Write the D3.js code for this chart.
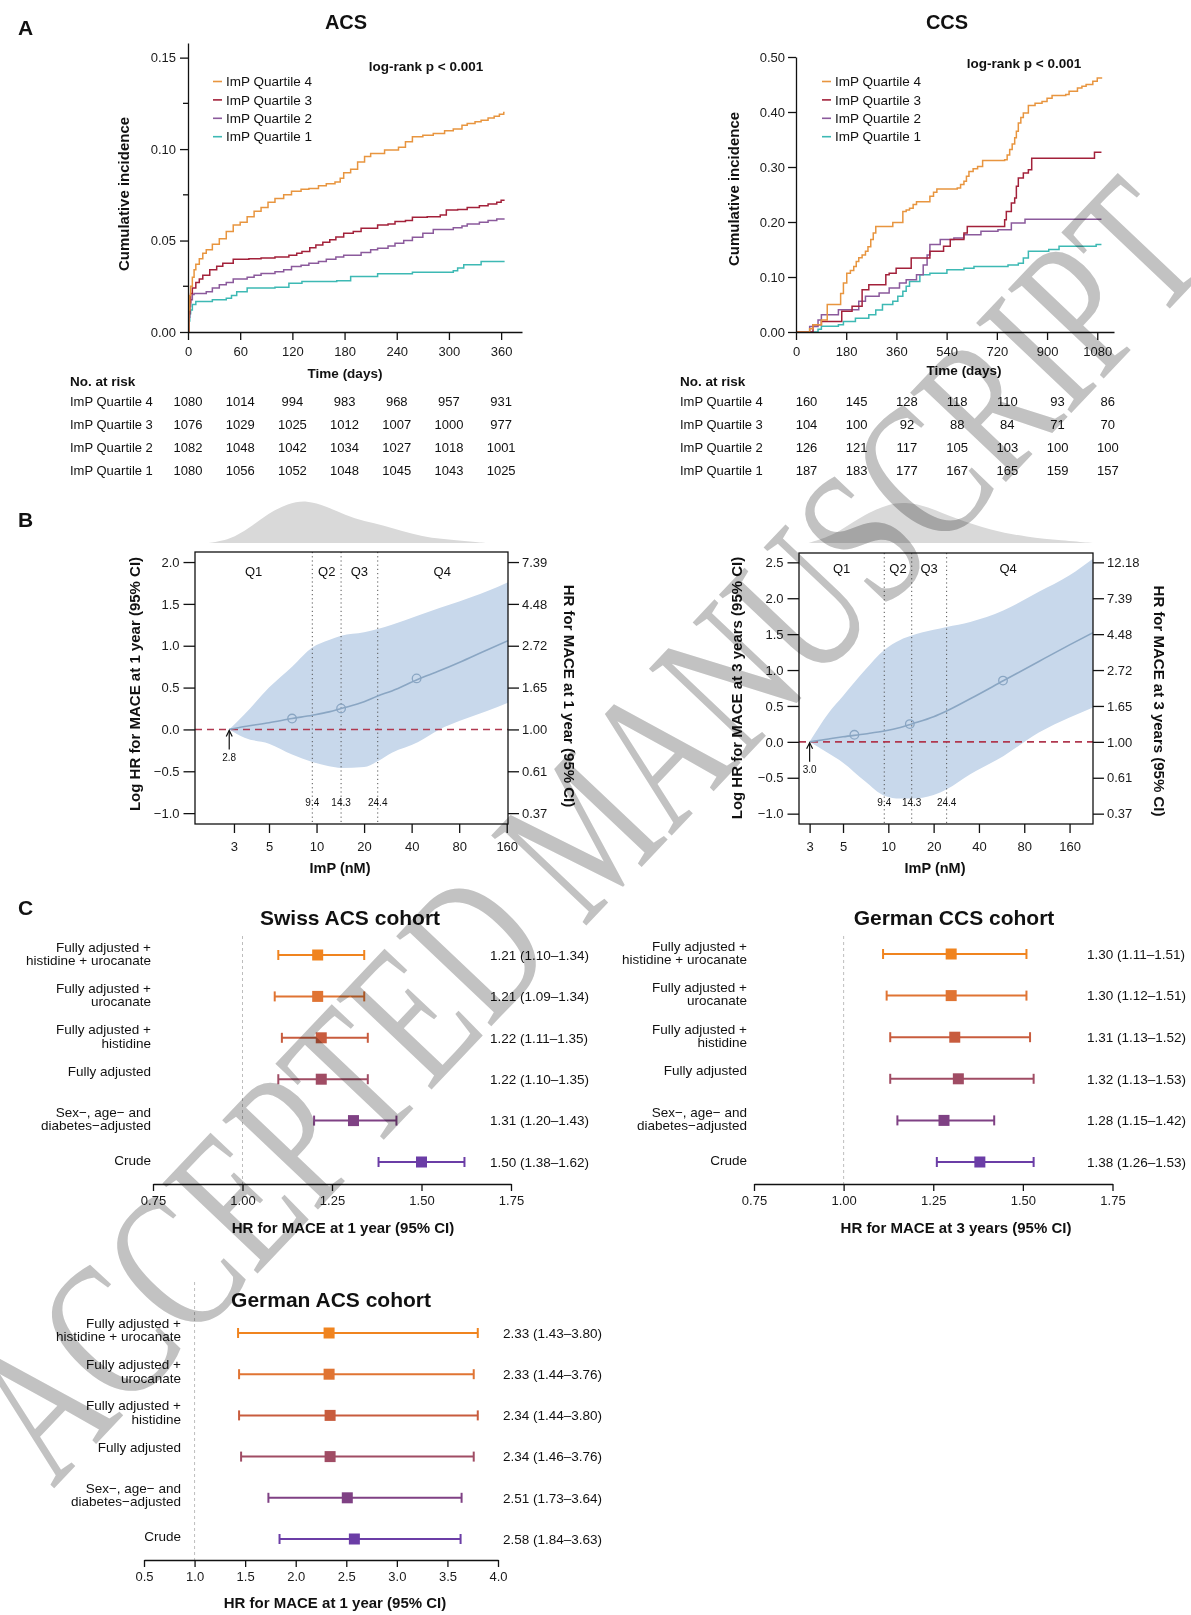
<!DOCTYPE html>
<html><head><meta charset="utf-8">
<script src="https://cdn.jsdelivr.net/npm/d3@7"></script>
<style>body{margin:0;background:#fff} svg{display:block}</style>
</head><body>
<script>
// ================= DATA =================
const quartileNames = ["ImP Quartile 4","ImP Quartile 3","ImP Quartile 2","ImP Quartile 1"];
const quartileColors = ["#E8953F","#A3213A","#8B5A9C","#3DB9B4"];

// Panel A - ACS cumulative incidence [day, incidence]
const acsQ4 = [[0,0],[1,0.012],[2,0.02],[3,0.025],[5,0.03],[7,0.034],[9,0.037],[13,0.04],[17,0.043],[21,0.045],[28,0.048],[36,0.051],[44,0.055],[52,0.0585],[60,0.06],[68,0.063],[76,0.066],[84,0.068],[92,0.071],[100,0.073],[110,0.075],[119,0.077],[130,0.078],[139,0.0785],[150,0.08],[159,0.081],[169,0.082],[175,0.084],[179,0.087],[187,0.089],[195,0.093],[203,0.096],[210,0.0976],[226,0.0995],[242,0.101],[250,0.104],[258,0.1067],[270,0.1075],[282,0.1085],[295,0.11],[305,0.111],[315,0.113],[321,0.114],[330,0.115],[337,0.1158],[345,0.117],[352,0.118],[358,0.119],[363,0.12],[364,0.12]];
const acsQ3 = [[0,0],[1,0.01],[2,0.016],[3,0.021],[5,0.024],[9,0.027],[13,0.029],[17,0.031],[25,0.034],[33,0.036],[40,0.0376],[52,0.0398],[70,0.04],[84,0.0404],[100,0.041],[116,0.042],[125,0.043],[131,0.044],[140,0.046],[147,0.0476],[155,0.049],[163,0.0504],[170,0.052],[179,0.054],[190,0.055],[199,0.0567],[218,0.0585],[230,0.059],[238,0.0604],[250,0.061],[258,0.0627],[275,0.063],[290,0.064],[297,0.0667],[310,0.067],[321,0.068],[335,0.069],[345,0.07],[355,0.071],[360,0.072],[364,0.072]];
const acsQ2 = [[0,0],[1,0.008],[2,0.014],[3,0.0176],[5,0.0205],[7,0.021],[21,0.022],[28,0.024],[36,0.0258],[44,0.027],[52,0.029],[68,0.03],[76,0.031],[84,0.032],[100,0.033],[110,0.034],[119,0.0358],[130,0.0365],[139,0.0376],[150,0.0385],[159,0.0398],[170,0.041],[179,0.042],[199,0.0435],[210,0.045],[218,0.0458],[230,0.047],[238,0.0485],[248,0.05],[258,0.0518],[270,0.054],[282,0.056],[305,0.057],[315,0.058],[321,0.059],[335,0.06],[345,0.061],[355,0.0618],[364,0.0618]];
const acsQ1 = [[0,0],[1,0.006],[2,0.01],[3,0.012],[5,0.015],[9,0.0167],[28,0.0176],[44,0.0185],[50,0.02],[56,0.022],[68,0.024],[100,0.0245],[116,0.0267],[131,0.0276],[171,0.028],[187,0.0304],[218,0.0318],[258,0.0327],[305,0.0335],[310,0.035],[317,0.0367],[337,0.0385],[364,0.0385]];

// Panel A - CCS cumulative incidence [day, incidence]
const ccsQ4 = [[0,0],[45,0],[49,0.006],[61,0.013],[91,0.022],[112,0.05],[152,0.05],[160,0.07],[170,0.089],[182,0.107],[195,0.112],[207,0.119],[216,0.128],[225,0.135],[237,0.14],[249,0.147],[258,0.155],[268,0.168],[277,0.18],[286,0.192],[334,0.192],[347,0.199],[371,0.199],[383,0.219],[395,0.222],[407,0.225],[420,0.232],[432,0.237],[468,0.237],[480,0.247],[493,0.254],[505,0.26],[578,0.262],[590,0.268],[602,0.274],[611,0.283],[620,0.292],[635,0.297],[651,0.301],[669,0.312],[748,0.313],[757,0.322],[766,0.332],[775,0.342],[784,0.353],[790,0.365],[797,0.38],[806,0.39],[815,0.398],[833,0.412],[857,0.416],[882,0.419],[900,0.425],[918,0.43],[967,0.432],[979,0.4376],[1009,0.4436],[1025,0.447],[1040,0.45],[1064,0.456],[1080,0.462],[1095,0.463]];
const ccsQ3 = [[0,0],[50,0],[61,0.013],[91,0.019],[152,0.019],[164,0.0376],[201,0.0467],[225,0.0467],[237,0.077],[261,0.086],[310,0.086],[322,0.104],[334,0.107],[359,0.116],[407,0.116],[413,0.1345],[468,0.1345],[480,0.147],[529,0.156],[553,0.168],[602,0.18],[614,0.192],[724,0.192],[748,0.204],[754,0.219],[772,0.2345],[784,0.2436],[790,0.265],[797,0.28],[815,0.289],[833,0.295],[845,0.316],[1064,0.316],[1070,0.327],[1095,0.327]];
const ccsQ2 = [[0,0],[40,0],[49,0.01],[79,0.022],[91,0.0315],[152,0.0406],[225,0.0558],[249,0.065],[298,0.071],[334,0.08],[371,0.089],[395,0.095],[432,0.104],[456,0.122],[470,0.14],[480,0.159],[517,0.168],[566,0.171],[602,0.177],[663,0.183],[724,0.186],[772,0.198],[821,0.205],[1095,0.205]];
const ccsQ1 = [[0,0],[65,0],[79,0.005],[91,0.0103],[152,0.013],[170,0.019],[213,0.025],[261,0.0315],[286,0.04],[310,0.05],[347,0.056],[365,0.065],[383,0.074],[395,0.083],[407,0.092],[444,0.104],[480,0.107],[541,0.113],[602,0.116],[638,0.119],[760,0.122],[797,0.125],[815,0.1345],[833,0.147],[906,0.15],[943,0.156],[1076,0.159],[1095,0.159]];

// Numbers at risk
const acsRiskTimes = [0,60,120,180,240,300,360];
const acsRiskQ4 = [1080,1014,994,983,968,957,931];
const acsRiskQ3 = [1076,1029,1025,1012,1007,1000,977];
const acsRiskQ2 = [1082,1048,1042,1034,1027,1018,1001];
const acsRiskQ1 = [1080,1056,1052,1048,1045,1043,1025];
const ccsRiskTimes = [0,180,360,540,720,900,1080];
const ccsRiskQ4 = [160,145,128,118,110,93,86];
const ccsRiskQ3 = [104,100,92,88,84,71,70];
const ccsRiskQ2 = [126,121,117,105,103,100,100];
const ccsRiskQ1 = [187,183,177,167,165,159,157];

const acsTimeTicks = [0,60,120,180,240,300,360];
const ccsTimeTicks = [0,180,360,540,720,900,1080];
const acsIncTicks = [0,0.05,0.10,0.15];
const acsIncMinor = [0.025,0.075,0.125];
const ccsIncTicks = [0,0.1,0.2,0.3,0.4,0.5];

// Panel B - spline (ImP nM, log HR)
const acsGridX = [2.8,3.5,5,7,9.4,12,14.3,20,24.4,30,44,60,80,120,163];
const acsFit   = [0,0.035,0.08,0.13,0.17,0.21,0.25,0.33,0.40,0.46,0.60,0.70,0.80,0.95,1.06];
const acsUpper = [0,0.18,0.5,0.75,0.98,1.07,1.12,1.16,1.2,1.25,1.36,1.45,1.53,1.65,1.76];
const acsLower = [0,-0.1,-0.17,-0.3,-0.39,-0.44,-0.46,-0.45,-0.38,-0.28,-0.15,0.0,0.1,0.22,0.32];
const acsKnotX = [7.0,14.3,43];
const acsKnotY = [0.13,0.25,0.61];
const acsDensX = [2.07,2.84,3.75,4.97,6.57,8.69,11.5,15.2,20.1,26.7,35.3,46.7,61.8,81.8,118];
const acsDensY = [0,0.077,0.35,0.69,0.92,1.0,0.85,0.65,0.5,0.41,0.27,0.154,0.092,0.054,0];
const acsRef = 2.8;

const ccsGridX = [3.0,4,5,7,9.4,12,14.3,20,24.4,35,58,100,160,229];
const ccsFit   = [0,0.04,0.07,0.11,0.15,0.2,0.25,0.35,0.43,0.6,0.85,1.12,1.35,1.52];
const ccsUpper = [0,0.4,0.64,1.0,1.28,1.42,1.48,1.56,1.6,1.67,1.83,2.09,2.32,2.55];
const ccsLower = [0,-0.16,-0.29,-0.55,-0.75,-0.79,-0.79,-0.74,-0.66,-0.45,-0.2,0.13,0.34,0.48];
const ccsKnotX = [5.95,13.9,57.8];
const ccsKnotY = [0.098,0.247,0.853];
const ccsDensX = [2.95,4,5,7,10,13,18,28,48,83,142,229];
const ccsDensY = [0,0.15,0.35,0.7,0.95,1.0,0.9,0.59,0.31,0.146,0.065,0];
const ccsRef = 3.0;

const impCuts = [9.4,14.3,24.4];
const impTicks = [3,5,10,20,40,80,160];
const acsLogHRTicks = [-1,-0.5,0,0.5,1,1.5,2];
const ccsLogHRTicks = [-1,-0.5,0,0.5,1,1.5,2,2.5];
const qNames = ["Q1","Q2","Q3","Q4"];

// Panel C - forest plots
const forestLabels = [["Fully adjusted +","histidine + urocanate"],["Fully adjusted +","urocanate"],["Fully adjusted +","histidine"],["Fully adjusted",""],["Sex\u2212, age\u2212 and","diabetes\u2212adjusted"],["Crude"]];
const forestColors = ["#F0841F","#E07433","#C85C3E","#A04C64","#7F4184","#6B3DA6"];
const swissHR = [1.21,1.21,1.22,1.22,1.31,1.50];
const swissLo = [1.10,1.09,1.11,1.10,1.20,1.38];
const swissHi = [1.34,1.34,1.35,1.35,1.43,1.62];
const gccsHR = [1.30,1.30,1.31,1.32,1.28,1.38];
const gccsLo = [1.11,1.12,1.13,1.13,1.15,1.26];
const gccsHi = [1.51,1.51,1.52,1.53,1.42,1.53];
const gacsHR = [2.33,2.33,2.34,2.34,2.51,2.58];
const gacsLo = [1.43,1.44,1.44,1.46,1.73,1.84];
const gacsHi = [3.80,3.76,3.80,3.76,3.64,3.63];
const forestTicks1 = [0.75,1.00,1.25,1.50,1.75];
const forestTicks2 = [0.5,1.0,1.5,2.0,2.5,3.0,3.5,4.0];

const watermarkText = "ACCEPTED MANUSCRIPT";

// ================= DRAWING =================
const FONT = "'Liberation Sans', Arial, Helvetica, sans-serif";
const svg = d3.select("body").append("svg").attr("width",1191).attr("height",1615).attr("font-family",FONT);
svg.append("rect").attr("width",1191).attr("height",1615).attr("fill","#fff");

function label(g, x, y, s, o={}) {
  const {size=13, weight="normal", anchor="middle", rotate=0, fill="#111"} = o;
  return g.append("text").attr("transform",`translate(${x},${y}) rotate(${rotate})`)
    .attr("text-anchor",anchor).attr("dy","0.35em").attr("font-size",size)
    .attr("font-weight",weight).attr("fill",fill).text(s);
}
function styleAxis(sel, size=13) {
  sel.attr("font-family",FONT).attr("font-size",size);
  sel.selectAll("path.domain").attr("stroke","#111").attr("stroke-width",1.3);
  sel.selectAll(".tick line").attr("stroke","#111").attr("stroke-width",1.3);
  sel.selectAll(".tick text").attr("fill","#1a1a1a");
}

// ---------- Panel A ----------
function drawKM(o) {
  const g = svg.append("g");
  const x = d3.scaleLinear().domain(o.xDomain).range(o.xRange);
  const y = d3.scaleLinear().domain(o.yDomain).range(o.yRange);
  const line = d3.line().x(d=>x(d[0])).y(d=>y(d[1])).curve(d3.curveStepAfter);
  o.series.slice().reverse().forEach((s,k)=>{
    const i = o.series.length-1-k;
    g.append("path").attr("d",line(s)).attr("fill","none")
      .attr("stroke",quartileColors[i]).attr("stroke-width",1.5);
  });
  const xa = d3.axisBottom(x).tickValues(o.xTicks).tickFormat(d3.format("d"))
    .tickSize(8).tickPadding(7).tickSizeOuter(0);
  g.append("g").attr("transform",`translate(0,${y(0)})`).call(xa).call(styleAxis);
  const ya = d3.axisLeft(y).tickValues(o.yTicks).tickFormat(d3.format(".2f"))
    .tickSize(8).tickPadding(o.yPad).tickSizeOuter(0);
  g.append("g").attr("transform",`translate(${x(0)},0)`).call(ya).call(styleAxis);
  (o.yMinor||[]).forEach(v=>{
    g.append("line").attr("x1",x(0)-5).attr("x2",x(0)).attr("y1",y(v)).attr("y2",y(v))
      .attr("stroke","#111").attr("stroke-width",1.3);
  });
  quartileNames.forEach((n,i)=>{
    const ly = o.legY + i*18.4;
    g.append("line").attr("x1",o.legX).attr("x2",o.legX+9).attr("y1",ly).attr("y2",ly)
      .attr("stroke",quartileColors[i]).attr("stroke-width",1.6);
    label(g, o.legX+13, ly, n, {size:13.5, anchor:"start"});
  });
  label(g, o.lrX, o.lrY, "log-rank p < 0.001", {size:13.5, weight:"bold"});
  label(g, o.titleX, 21.5, o.title, {size:20, weight:"bold"});
  label(g, o.ylabX, o.ylabY, "Cumulative incidence", {size:15, weight:"bold", rotate:-90});
  label(g, o.xlabX, o.xlabY, "Time (days)", {size:13.5, weight:"bold"});
  label(g, o.tabX, 381, "No. at risk", {size:13.5, weight:"bold", anchor:"start"});
  const rowsY = [401.5, 424.5, 447, 470];
  o.risk.forEach((vals,i)=>{
    label(g, o.tabX, rowsY[i], quartileNames[i], {size:13, anchor:"start"});
    vals.forEach((v,j)=> label(g, x(o.riskTimes[j]) + o.tabShift, rowsY[i], String(v), {size:13}));
  });
}

drawKM({
  title:"ACS", titleX:346,
  xDomain:[0,384], xRange:[188,522], yDomain:[0,0.158], yRange:[332,43],
  xTicks:acsTimeTicks, yTicks:acsIncTicks, yMinor:acsIncMinor, yPad:4,
  series:[acsQ4,acsQ3,acsQ2,acsQ1],
  legX:213, legY:81.5, lrX:426, lrY:66.5,
  ylabX:124, ylabY:194, xlabX:345, xlabY:373,
  tabX:70, risk:[acsRiskQ4,acsRiskQ3,acsRiskQ2,acsRiskQ1], riskTimes:acsRiskTimes, tabShift:0
});
drawKM({
  title:"CCS", titleX:947,
  xDomain:[0,1140], xRange:[796,1114], yDomain:[0,0.5], yRange:[332,57],
  xTicks:ccsTimeTicks, yTicks:ccsIncTicks, yPad:3,
  series:[ccsQ4,ccsQ3,ccsQ2,ccsQ1],
  legX:822, legY:81.5, lrX:1024, lrY:63,
  ylabX:734, ylabY:189, xlabX:964, xlabY:370,
  tabX:680, risk:[ccsRiskQ4,ccsRiskQ3,ccsRiskQ2,ccsRiskQ1], riskTimes:ccsRiskTimes, tabShift:10.5
});

// ---------- Panel B ----------
function drawSpline(o) {
  const g = svg.append("g");
  const x = d3.scaleLog().domain(o.xDomain).range(o.xRange);
  const y = d3.scaleLinear().domain(o.yDomain).range(o.yRange);
  const [L,R] = o.xRange, [B,T] = o.yRange;
  const dens = o.densX.map((v,i)=>[v,o.densY[i]]);
  g.append("path").attr("d", d3.area().x(d=>x(d[0])).y0(o.densBase).y1(d=>o.densBase-d[1]*o.densH)
      .curve(d3.curveBasis)(dens)).attr("fill","#D9D9D9");
  const clipId = "clip"+o.id;
  g.append("clipPath").attr("id",clipId).append("rect").attr("x",L).attr("y",T).attr("width",R-L).attr("height",B-T);
  const pg = g.append("g").attr("clip-path",`url(#${clipId})`);
  const pts = o.gridX.map((v,i)=>({x:v, f:o.fit[i], lo:o.lower[i], hi:o.upper[i]}));
  pg.append("path").attr("d", d3.area().x(d=>x(d.x)).y0(d=>y(d.lo)).y1(d=>y(d.hi)).curve(d3.curveMonotoneX)(pts))
    .attr("fill","#C8D8EB");
  impCuts.forEach(c=>{
    pg.append("line").attr("x1",x(c)).attr("x2",x(c)).attr("y1",T).attr("y2",B)
      .attr("stroke","#555").attr("stroke-width",1).attr("stroke-dasharray","1.2,3");
    label(g, x(c), 802, String(c), {size:10});
  });
  pg.append("line").attr("x1",L).attr("x2",R).attr("y1",y(0)).attr("y2",y(0))
    .attr("stroke","#B0384F").attr("stroke-width",1.6).attr("stroke-dasharray","7,5");
  pg.append("path").attr("d", d3.line().x(d=>x(d.x)).y(d=>y(d.f)).curve(d3.curveMonotoneX)(pts))
    .attr("fill","none").attr("stroke","#8AA6C3").attr("stroke-width",1.6);
  o.knotX.forEach((k,i)=> pg.append("circle").attr("cx",x(k)).attr("cy",y(o.knotY[i])).attr("r",4.3)
    .attr("fill","none").attr("stroke","#8AA6C3").attr("stroke-width",1.3));
  const ax0 = x(o.ref), ay = y(0);
  g.append("line").attr("x1",ax0).attr("x2",ax0).attr("y1",ay+1).attr("y2",ay+20).attr("stroke","#111").attr("stroke-width",1.2);
  g.append("path").attr("d",`M${ax0-3},${ay+7}L${ax0},${ay+1}L${ax0+3},${ay+7}`).attr("fill","none").attr("stroke","#111").attr("stroke-width",1.2);
  label(g, ax0, ay+28, o.ref.toFixed(1), {size:10});
  const bounds = [o.qMin, ...impCuts, 160];
  qNames.forEach((q,i)=> label(g, x(Math.sqrt(bounds[i]*bounds[i+1])), o.qY, q, {size:13}));
  g.append("rect").attr("x",L).attr("y",T).attr("width",R-L).attr("height",B-T)
    .attr("fill","none").attr("stroke","#111").attr("stroke-width",1.3);
  const bx = d3.axisBottom(x).tickValues(impTicks).tickFormat(d3.format("d")).tickSize(9).tickPadding(9).tickSizeOuter(0);
  const bxg = g.append("g").attr("transform",`translate(0,${B})`).call(bx).call(styleAxis);
  bxg.select("path.domain").remove();
  const ly = d3.axisLeft(y).tickValues(o.yTicks).tickFormat(d3.format(".1f")).tickSize(11.5).tickPadding(4).tickSizeOuter(0);
  const lyg = g.append("g").attr("transform",`translate(${L},0)`).call(ly).call(styleAxis);
  lyg.select("path.domain").remove();
  const ry = d3.axisRight(y).tickValues(o.yTicks).tickFormat(d=>Math.exp(d).toFixed(2)).tickSize(11).tickPadding(3).tickSizeOuter(0);
  const ryg = g.append("g").attr("transform",`translate(${R},0)`).call(ry).call(styleAxis);
  ryg.select("path.domain").remove();
  g.selectAll(".tick text").text(function(){ return this.textContent.replace("-","\u2212"); });
  label(g, o.llabX, o.llabY, `Log HR for MACE at ${o.period} (95% CI)`, {size:15, weight:"bold", rotate:-90});
  label(g, o.rlabX, o.rlabY, `HR for MACE at ${o.period} (95% CI)`, {size:15, weight:"bold", rotate:90});
  label(g, o.xlabX, 868, "ImP (nM)", {size:14.5, weight:"bold"});
}

drawSpline({
  id:"acs", period:"1 year",
  xDomain:[1.7,163], xRange:[195,508], yDomain:[-1.13,2.12], yRange:[824,552],
  gridX:acsGridX, fit:acsFit, upper:acsUpper, lower:acsLower, knotX:acsKnotX, knotY:acsKnotY,
  densX:acsDensX, densY:acsDensY, densBase:543, densH:43, ref:acsRef, qMin:1.7, qY:571,
  yTicks:acsLogHRTicks, llabX:135, llabY:684, rlabX:569, rlabY:696, xlabX:340
});
drawSpline({
  id:"ccs", period:"3 years",
  xDomain:[2.55,229], xRange:[799,1093], yDomain:[-1.144,2.63], yRange:[824,553],
  gridX:ccsGridX, fit:ccsFit, upper:ccsUpper, lower:ccsLower, knotX:ccsKnotX, knotY:ccsKnotY,
  densX:ccsDensX, densY:ccsDensY, densBase:543, densH:41, ref:ccsRef, qMin:2.55, qY:568,
  yTicks:ccsLogHRTicks, llabX:737, llabY:688, rlabX:1159, rlabY:701, xlabX:935
});

// ---------- Panel C ----------
function drawForest(o) {
  const g = svg.append("g");
  const x = d3.scaleLinear().domain(o.xDomain).range(o.xRange);
  const y = d3.scalePoint().domain(d3.range(forestLabels.length)).range(o.yRange);
  g.append("line").attr("x1",x(1)).attr("x2",x(1)).attr("y1",o.refTop).attr("y2",o.axisY)
    .attr("stroke","#BDBDBD").attr("stroke-width",1).attr("stroke-dasharray","3,3");
  const ax = d3.axisBottom(x).tickValues(o.ticks).tickFormat(d3.format(o.fmt)).tickSize(7).tickPadding(4.5).tickSizeOuter(0);
  g.append("g").attr("transform",`translate(0,${o.axisY})`).call(ax).call(styleAxis);
  forestLabels.forEach((lines,i)=>{
    const yy = y(i), c = forestColors[i];
    g.append("line").attr("x1",x(o.lo[i])).attr("x2",x(o.hi[i])).attr("y1",yy).attr("y2",yy).attr("stroke",c).attr("stroke-width",2);
    [o.lo[i],o.hi[i]].forEach(v=> g.append("line").attr("x1",x(v)).attr("x2",x(v)).attr("y1",yy-5).attr("y2",yy+5).attr("stroke",c).attr("stroke-width",2));
    g.append("rect").attr("x",x(o.hr[i])-5.5).attr("y",yy-5.5).attr("width",11).attr("height",11).attr("fill",c);
    lines.forEach((s,j)=>{
      if (!s) return;
      label(g, o.labX, yy + (j-(lines.length-1)/2)*13.3 + o.labShift, s, {size:13.5, anchor:"end"});
    });
    label(g, o.valX, yy, `${o.hr[i].toFixed(2)} (${o.lo[i].toFixed(2)}\u2013${o.hi[i].toFixed(2)})`, {size:13.5, anchor:"start"});
  });
  label(g, o.titleX, o.titleY, o.title, {size:21, weight:"bold"});
  label(g, o.xlabX, o.xlabY, o.xlab, {size:15, weight:"bold"});
}

drawForest({
  title:"Swiss ACS cohort", titleX:350, titleY:918, xlab:"HR for MACE at 1 year (95% CI)", xlabX:343, xlabY:1228,
  xDomain:[0.75,1.75], xRange:[153,511], yRange:[955,1162], axisY:1184, refTop:936,
  ticks:forestTicks1, fmt:".2f", hr:swissHR, lo:swissLo, hi:swissHi, labX:151, labShift:-1.5, valX:490
});
drawForest({
  title:"German CCS cohort", titleX:954, titleY:918, xlab:"HR for MACE at 3 years (95% CI)", xlabX:956, xlabY:1228,
  xDomain:[0.75,1.75], xRange:[754,1112.5], yRange:[954,1162], axisY:1184, refTop:936,
  ticks:forestTicks1, fmt:".2f", hr:gccsHR, lo:gccsLo, hi:gccsHi, labX:747, labShift:-1.5, valX:1087
});
drawForest({
  title:"German ACS cohort", titleX:331, titleY:1300, xlab:"HR for MACE at 1 year (95% CI)", xlabX:335, xlabY:1603,
  xDomain:[0.5,4.0], xRange:[144,498], yRange:[1333,1539], axisY:1560, refTop:1282,
  ticks:forestTicks2, fmt:".1f", hr:gacsHR, lo:gacsLo, hi:gacsHi, labX:181, labShift:-3, valX:503
});

// panel letters
label(svg, 18, 28, "A", {size:21, weight:"bold", anchor:"start"});
label(svg, 18, 520, "B", {size:21, weight:"bold", anchor:"start"});
label(svg, 18, 908, "C", {size:21, weight:"bold", anchor:"start"});

// watermark
const WF = 200;
svg.append("text").attr("transform","translate(586,830) rotate(-46.6)")
  .attr("text-anchor","middle").attr("y", 0.33*WF)
  .attr("font-family","'Liberation Serif', 'DejaVu Serif', serif").attr("font-size",WF)
  .attr("textLength",1690).attr("lengthAdjust","spacingAndGlyphs")
  .attr("fill","#C2C2C2").style("mix-blend-mode","multiply")
  .text(watermarkText);
</script>
</body></html>
